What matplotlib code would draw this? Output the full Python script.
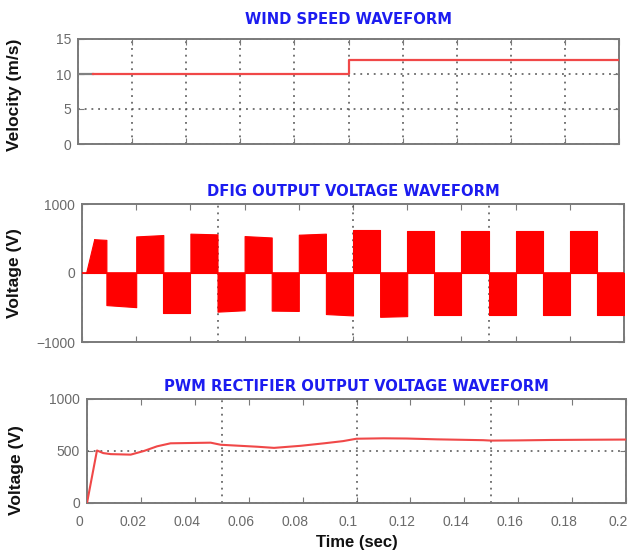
import matplotlib
matplotlib.use("Agg")
import matplotlib.pyplot as plt
from matplotlib.ticker import MultipleLocator, NullFormatter
from matplotlib.transforms import ScaledTranslation

# ---------------- data ----------------
# wind speed (m/s)
wind_init_t = [0.0, 0.0055]
wind_init_v = [10, 10]
wind_t = [0.0055, 0.1, 0.1, 0.2]
wind_v = [10, 10, 12, 12]

# DFIG output voltage: envelope of each half cycle (start / end level, V)
dfig_startup_t = [0.0015, 0.0045]
dfig_startup_v = [0, 490]
dfig_edges = [0.0045, 0.009, 0.02, 0.03, 0.04, 0.05, 0.06, 0.07, 0.08, 0.09,
              0.10, 0.11, 0.12, 0.13, 0.14, 0.15, 0.16, 0.17, 0.18, 0.19, 0.20]
dfig_start = [490, -465, 530, -585, 570, -560, 535, -545, 555, -595,
              630, -635, 610, -610, 610, -610, 610, -610, 610, -610]
dfig_end = [480, -495, 550, -585, 560, -540, 515, -550, 570, -615,
            630, -625, 610, -610, 610, -610, 610, -610, 610, -610]

# PWM rectifier DC output voltage (V)
rect_t = [0, 0.0037, 0.006, 0.0088, 0.0162, 0.0211, 0.026, 0.031, 0.0459,
          0.0496, 0.0632, 0.0694, 0.0793, 0.088, 0.095, 0.1, 0.11, 0.1186,
          0.13, 0.147, 0.15, 0.16, 0.172, 0.185, 0.2]
rect_v = [0, 505, 480, 470, 465, 500, 545, 574, 580, 560, 541, 530, 550,
          574, 595, 618, 622, 620, 612, 604, 600, 602, 606, 608, 610]

x_ticks = [0, 0.02, 0.04, 0.06, 0.08, 0.1, 0.12, 0.14, 0.16, 0.18, 0.2]
x_ticklabels = ["0", "0.02", "0.04", "0.06", "0.08", "0.1", "0.12",
                "0.14", "0.16", "0.18", "0.2"]

# ---------------- style ----------------
plt.rcParams["font.family"] = ["Liberation Sans", "DejaVu Sans"]
SPINE = "#7a7a7a"
TICKC = "#6a6a6a"
GRIDC = "#505050"
TITLEC = "#1c1cf0"
LINE_RED = "#f04848"
grid_style = dict(color=GRIDC, linestyle=(0, (1.2, 3.2)), linewidth=1.1)

fig = plt.figure(figsize=(6.28, 5.58), dpi=100)
W, H = 628, 558


def make_axes(left, top, right, bottom):
    return fig.add_axes([left / W, 1 - bottom / H, (right - left) / W, (bottom - top) / H])


def style(ax):
    for s in ax.spines.values():
        s.set_color(SPINE)
        s.set_linewidth(1.4)
    ax.tick_params(which="both", direction="in", color=SPINE, length=4,
                   labelcolor=TICKC, labelsize=10, top=True, right=True, pad=5)
    ax.tick_params(which="minor", length=0)
    ax.xaxis.remove_overlapping_locs = False
    ax.yaxis.remove_overlapping_locs = False
    ax.set_xlim(0, 0.2)


def title(ax, text, pad=7):
    ax.set_title(text, color=TITLEC, fontsize=10.6, fontweight="heavy",
                 family=["DejaVu Sans"], pad=pad)


# ---- wind speed ----
ax1 = make_axes(78, 39, 619, 144)
style(ax1)
ax1.plot(wind_init_t, wind_init_v, color="#808080", lw=1.6, zorder=3)
ax1.plot(wind_t, wind_v, color=LINE_RED, lw=1.6, zorder=3)
ax1.set_ylim(0, 15)
ax1.set_yticks([0, 5, 10, 15])
ax1.set_xticks(x_ticks)
ax1.xaxis.set_major_formatter(NullFormatter())
ax1.grid(True, **grid_style)
ax1.set_ylabel("Velocity (m/s)", fontsize=12.5, fontweight="bold", color="#111111")
ax1.yaxis.set_label_coords(-0.104, 0.47)
title(ax1, "WIND SPEED WAVEFORM", pad=11)

# ---- DFIG output voltage ----
ax2 = make_axes(82, 204, 624, 342)
style(ax2)
ax2.fill_between(dfig_startup_t, 0, dfig_startup_v, color="#ff0000", lw=0.8, zorder=3)
for i in range(len(dfig_start)):
    ax2.fill_between(dfig_edges[i:i + 2], 0, [dfig_start[i], dfig_end[i]],
                     color="#ff0000", lw=0.8, zorder=3)
ax2.plot([0, 0.2], [0, 0], color="#ff0000", lw=1.2, zorder=3)
ax2.set_ylim(-1000, 1000)
ax2.set_yticks([-1000, 0, 1000])
ax2.set_xticks(x_ticks)
ax2.xaxis.set_major_formatter(NullFormatter())
ax2.xaxis.set_minor_locator(MultipleLocator(0.05))
ax2.grid(True, which="minor", axis="x", **grid_style)
ax2.set_ylabel("Voltage (V)", fontsize=12.5, fontweight="bold", color="#111111")
ax2.yaxis.set_label_coords(-0.111, 0.5)
title(ax2, "DFIG OUTPUT VOLTAGE WAVEFORM", pad=6)

# ---- PWM rectifier output voltage ----
ax3 = make_axes(87, 399, 626, 503)
style(ax3)
ax3.plot(rect_t, rect_v, color=LINE_RED, lw=1.5, zorder=3)
ax3.set_ylim(0, 1000)
ax3.set_yticks([0, 500, 1000])
ax3.set_xticks(x_ticks)
ax3.set_xticklabels(x_ticklabels)
ax3.tick_params(axis="x", pad=9)
shift = ScaledTranslation(-8 / 100, 0, fig.dpi_scale_trans)
for lbl in ax3.get_xticklabels():
    lbl.set_transform(lbl.get_transform() + shift)
ax3.xaxis.set_minor_locator(MultipleLocator(0.05))
ax3.yaxis.set_minor_locator(MultipleLocator(500))
ax3.grid(True, which="minor", **grid_style)
ax3.set_ylabel("Voltage (V)", fontsize=12.5, fontweight="bold", color="#111111")
ax3.yaxis.set_label_coords(-0.117, 0.32)
ax3.set_xlabel("Time (sec)", fontsize=12, fontweight="bold", color="#111111", labelpad=4)
title(ax3, "PWM RECTIFIER OUTPUT VOLTAGE WAVEFORM", pad=6)

fig.savefig("out.png", dpi=100)
